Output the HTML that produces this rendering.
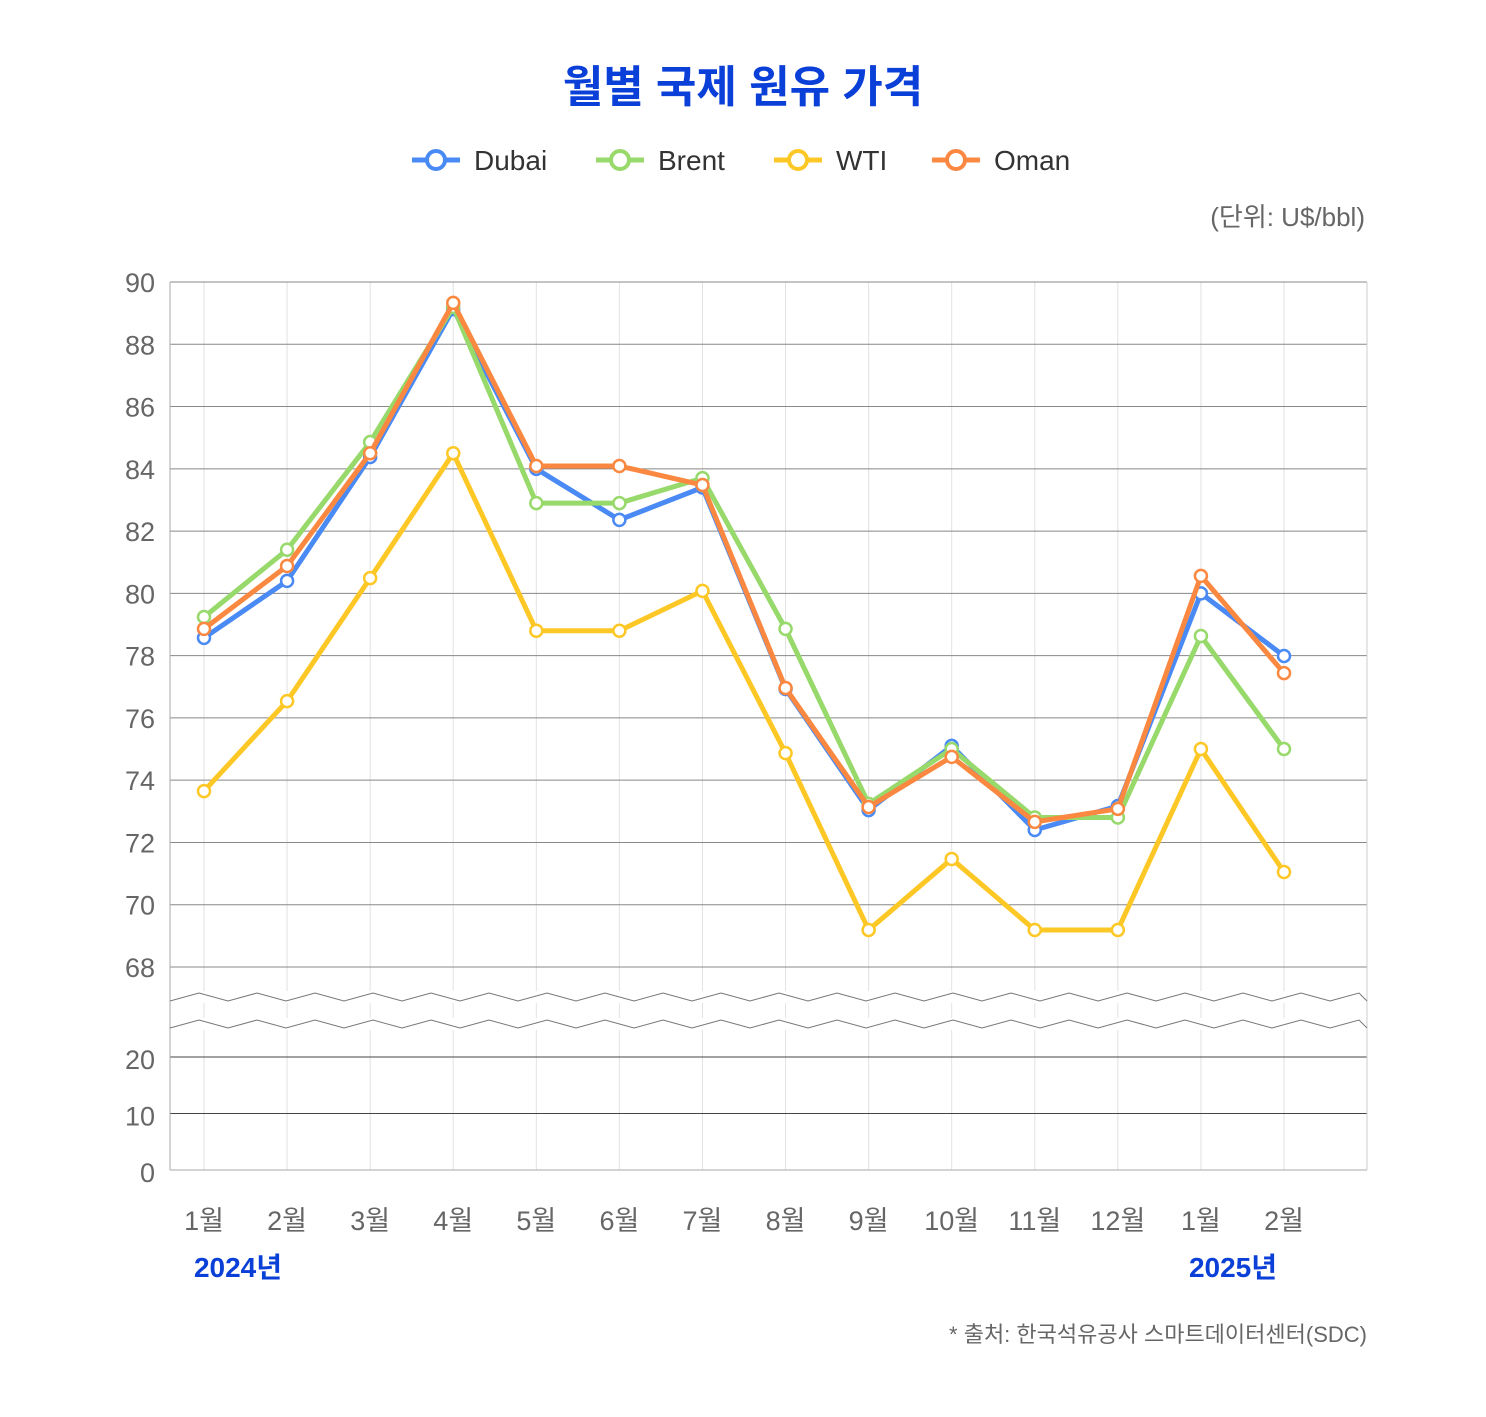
<!DOCTYPE html>
<html><head><meta charset="utf-8"><style>
body{margin:0;background:#fff;}
svg text{font-family:"Liberation Sans","Noto Sans CJK KR",sans-serif;}
</style></head><body>
<svg id="chart" width="1486" height="1412" viewBox="0 0 1486 1412" xmlns="http://www.w3.org/2000/svg">
<rect width="1486" height="1412" fill="#fff"/>
<text x="743" y="102" text-anchor="middle" font-size="44" font-weight="bold" fill="#0a3fd8">월별 국제 원유 가격</text>
<g id="legend"></g>
<text x="1365" y="226" text-anchor="end" font-size="26" fill="#666">(단위: U$/bbl)</text>
<g id="grid"></g>
<g id="series"></g>
<text x="238" y="1277" text-anchor="middle" font-size="28" font-weight="bold" fill="#0a3fd8">2024년</text>
<text x="1233" y="1277" text-anchor="middle" font-size="28" font-weight="bold" fill="#0a3fd8">2025년</text>
<text x="1367" y="1342" text-anchor="end" font-size="22" fill="#666">* 출처: 한국석유공사 스마트데이터센터(SDC)</text>
</svg>
<script>
const categories=["1월","2월","3월","4월","5월","6월","7월","8월","9월","10월","11월","12월","1월","2월"];
const seriesNames=["Dubai","Brent","WTI","Oman"];
const dubai=[78.57,80.4,84.38,89.13,84.0,82.36,83.4,76.93,73.04,75.1,72.4,73.17,80.0,77.99];
const brent=[79.24,81.4,84.86,89.2,82.9,82.9,83.7,78.86,73.24,75.0,72.8,72.8,78.63,75.0];
const wti=[73.65,76.54,80.49,84.5,78.8,78.8,80.08,74.87,69.19,71.47,69.19,69.19,75.0,71.05];
const oman=[78.86,80.88,84.5,89.33,84.09,84.09,83.48,76.96,73.14,74.75,72.66,73.08,80.56,77.44];
const upperTicks=[68,70,72,74,76,78,80,82,84,86,88,90];
const lowerTicks=[0,10,20];
const colors=["#4a8af4","#97d96a","#fdc826","#fb8840"];
const NS="http://www.w3.org/2000/svg";
const L=170,R=1367;
function x(i){return 204+i*(1284-204)/(categories.length-1);}
function yU(v){return 282+(90-v)*(967-282)/22;}
function yL(v){return 1170-v*(1170-1057)/20;}
function mk(t,a,p){const e=document.createElementNS(NS,t);for(const k in a)e.setAttribute(k,a[k]);p.appendChild(e);return e;}
const grid=document.getElementById('grid');
categories.forEach((c,i)=>{
 const l=mk('line',{x1:x(i),x2:x(i),y1:282,y2:1170,stroke:'#e2e2e2','stroke-width':1},grid);
 
 
 const t=mk('text',{x:x(i),y:1230,'text-anchor':'middle','font-size':27,fill:'#666'},grid);
 t.textContent=c;
 
 
});
upperTicks.forEach(v=>{
 const l=mk('line',{x1:L,x2:R,y1:yU(v),y2:yU(v),stroke:'#888','stroke-width':1},grid);
 
 
 const t=mk('text',{x:155,y:yU(v)+10,'text-anchor':'end','font-size':27,fill:'#666'},grid);
 t.textContent=v;
 
 
});
lowerTicks.forEach(v=>{
 const l=mk('line',{x1:L,x2:R,y1:yL(v),y2:yL(v),stroke:v===0?'#aaa':'#444','stroke-width':1},grid);
 
 
 const t=mk('text',{x:155,y:yL(v)+12,'text-anchor':'end','font-size':27,fill:'#666'},grid);
 t.textContent=v;
 
 
});
const ax=mk('line',{x1:L,x2:L,y1:282,y2:1170,stroke:'#aaa'},grid);


const ax2=mk('line',{x1:R,x2:R,y1:282,y2:1170,stroke:'#ccc'},grid);


[997,1024].forEach(yy=>{
 let d='M'+L+' '+(yy+4);
 for(let xx=L;xx<R;xx+=58){d+=' L'+(xx+29)+' '+(yy-4)+' L'+Math.min(xx+58,R)+' '+(yy+4);}
 mk('rect',{x:L+1,y:yy-6,width:R-L-2,height:12,fill:'#fff'},grid);
 const p=mk('path',{d:d,fill:'none',stroke:'#777','stroke-width':1},grid);
 
 
});
const data=[dubai,brent,wti,oman];
const sg=document.getElementById('series');
data.forEach((arr,s)=>{
 const g=mk('g',{},sg);
 
 
 const pl=mk('polyline',{points:arr.map((v,i)=>x(i)+','+yU(v)).join(' '),fill:'none',stroke:colors[s],'stroke-width':5,'stroke-linejoin':'round'},g);
 
 
 arr.forEach((v,i)=>{
  const c=mk('circle',{cx:x(i),cy:yU(v),r:6,fill:'#fff',stroke:colors[s],'stroke-width':2.5},g);
  
  
 });
});
const lg=document.getElementById('legend');
const lx=[412,596,774,932];
seriesNames.forEach((n,s)=>{
 const g=mk('g',{},lg);
 
 
 mk('line',{x1:lx[s],x2:lx[s]+48,y1:160,y2:160,stroke:colors[s],'stroke-width':5},g);
 mk('circle',{cx:lx[s]+24,cy:160,r:9,fill:'#fff',stroke:colors[s],'stroke-width':4},g);
 const t=mk('text',{x:lx[s]+62,y:170,'font-size':28,fill:'#333'},g);
 t.textContent=n;
});
</script>
</body></html>
